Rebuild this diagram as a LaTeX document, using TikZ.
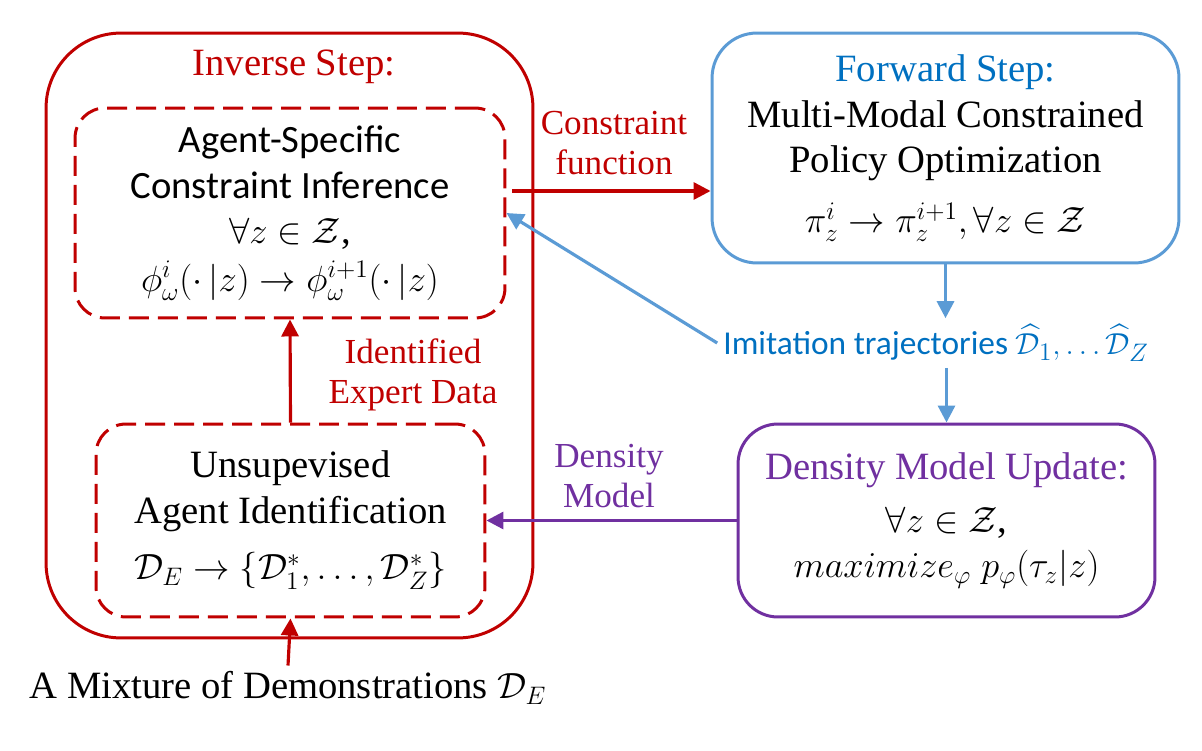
\documentclass[tikz,border=0pt]{standalone}
\usepackage{amsmath}
\usepackage{amssymb}
\usepackage{fontspec}
\setmainfont{Liberation Serif}
\newfontfamily\calibri{Carlito}
\usepackage{tikz}
\usetikzlibrary{arrows.meta}
\definecolor{invred}{RGB}{192,0,0}
\definecolor{fwdblue}{RGB}{91,155,213}
\definecolor{txtblue}{RGB}{0,112,192}
\definecolor{densviolet}{RGB}{112,48,160}
\tikzset{every node/.style={align=center, inner sep=0.33em, font=\fontsize{22}{26}\selectfont}}
\tikzset{stepbox/.style={draw, line width=1.7pt, inner sep=0pt, rounded corners=#1}}
\tikzset{dashbox/.style={stepbox=0.6cm, dash pattern=on 0.4cm off 0.18cm}}
\tikzset{edgelbl/.style={font=\fontsize{20}{22.8}\selectfont}}
\tikzset{flow/.style={line width=1.8pt, -{Triangle[length=0.34cm, width=0.34cm]}}}

\begin{document}
\begin{tikzpicture}[x=0.02cm, y=-0.02cm]
		\useasboundingbox (0,0) rectangle (1202,750);
		\node[stepbox=1.5cm, invred, minimum width=9.74cm, minimum height=12.1cm] (inv) at (289.5,335.5) {};
		\node[invred] (invtitle) at (294,67) {Inverse Step:};
		\node[dashbox, invred, minimum width=8.6cm, minimum height=4.2cm, text=black] (infer) at (290,213)
			{{\calibri Agent-Specific}\\{\calibri Constraint Inference}\\$\forall z\in\mathcal{Z}$,\\[1pt]
			$\phi_\omega^i(\cdot\,|z)\rightarrow\phi_\omega^{i+1}(\cdot\,|z)$};
		\node[dashbox, invred, minimum width=7.78cm, minimum height=3.86cm, text=black] (ident) at (290.5,520.5)
			{Unsupevised\\Agent Identification\\[6pt]$\mathcal{D}_E\rightarrow\{\mathcal{D}_1^*,\ldots,\mathcal{D}_Z^*\}$};
		\node[stepbox=0.9cm, fwdblue, minimum width=9.34cm, minimum height=4.6cm, text=black] (fwd) at (945.5,148)
			{\textcolor{txtblue}{Forward Step:}\\Multi-Modal Constrained\\Policy Optimization\\[8pt]
			$\pi_z^i\rightarrow\pi_z^{i+1},\forall z\in\mathcal{Z}$};
		\node[stepbox=0.8cm, densviolet, minimum width=8.34cm, minimum height=3.86cm, text=black] (dens) at (946.5,520.5)
			{\textcolor{densviolet}{Density Model Update:}\\[4pt]$\forall z\in\mathcal{Z}$,\\
			$maximize_\varphi\;p_\varphi(\tau_z|z)$};
		\node[txtblue, font=\calibri\fontsize{19}{24}\selectfont] (imit) at (936,343)
			{Imitation trajectories $\widehat{\mathcal{D}}_1,\ldots\widehat{\mathcal{D}}_Z$};
		\node (mix) at (288,688) {A Mixture of Demonstrations $\mathcal{D}_E$};
		\node[edgelbl, invred] (cflbl) at (614,143) {Constraint\\function};
		\node[edgelbl, invred] (idlbl) at (413,375) {Identified\\Expert Data};
		\node[edgelbl, densviolet] (dmlbl) at (609,476) {Density\\Model};
		\coordinate (cf) at ([shift={(0.12cm,0.44cm)}]infer.east);
		\draw[flow, invred] (cf) -- (cf -| fwd.west);
		\draw[flow, invred] (ident.north) -- (infer.south);
		\draw[flow, invred] (mix.north) -- (ident.south);
		\draw[flow, fwdblue] (imit.west) -- (infer.east);
		\draw[flow, fwdblue] (fwd.south) -- (fwd.south |- imit.north);
		\draw[flow, fwdblue] (dens.north |- imit.south) -- (dens.north);
		\draw[flow, densviolet] (dens.west) -- (ident.east);
		\end{tikzpicture}
\end{document}
